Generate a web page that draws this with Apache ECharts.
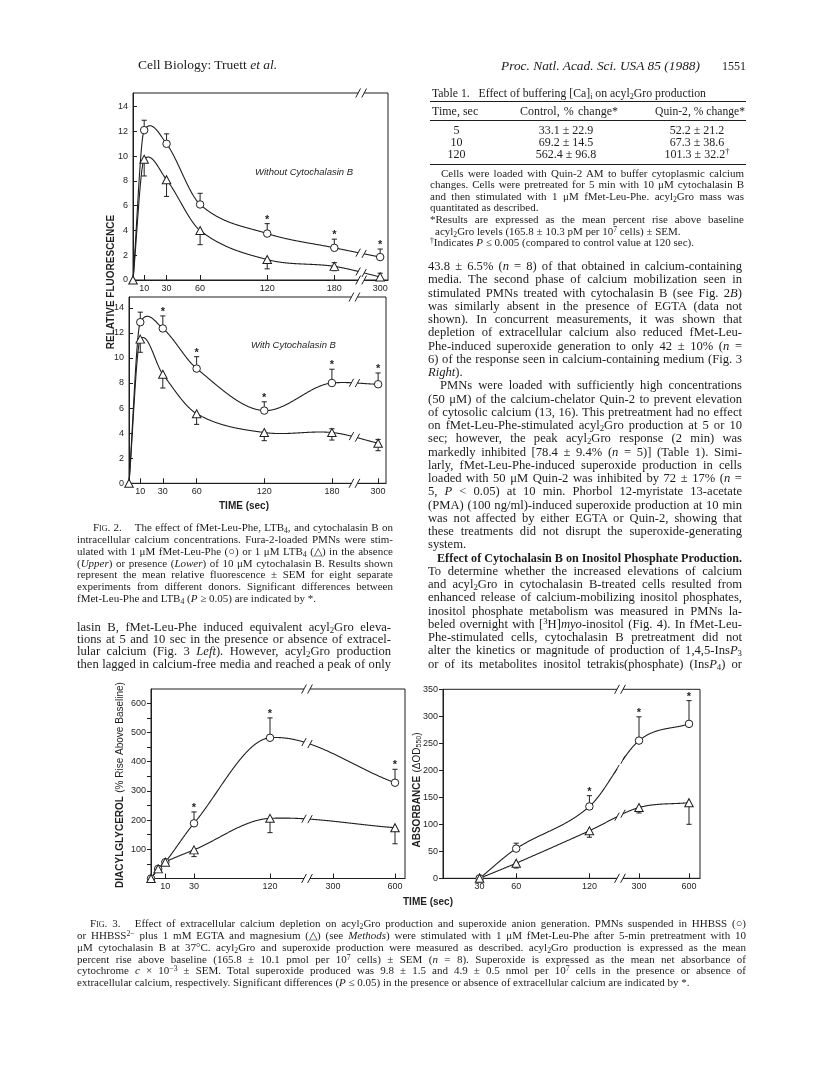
<!DOCTYPE html>
<html><head><meta charset="utf-8">
<script src="https://cdn.jsdelivr.net/npm/echarts@6/dist/echarts.min.js"></script>
<style>
html,body{margin:0;padding:0;background:#fff;}
#page{position:relative;width:816px;height:1067px;overflow:hidden;background:#fff;}
#chart{position:absolute;left:0;top:0;width:816px;height:1067px;}
#text{position:absolute;left:0;top:0;width:816px;height:1067px;}
.ln{position:absolute;white-space:nowrap;font-family:"Liberation Serif","Times New Roman",serif;color:#1c1c1c;}
.ln>span{display:inline-block;transform-origin:0 50%;}
.rule{position:absolute;background:#1c1c1c;}
sub{font-size:0.7em;vertical-align:-0.25em;line-height:0;}
sup{font-size:0.7em;vertical-align:0.45em;line-height:0;}
.sc{font-variant:small-caps;}
</style></head>
<body><div id="page"><div id="chart"></div><div id="text"></div></div>
<script>
// ---------------- DATA ----------------
// Fig. 2: relative fluorescence (fura-2) vs time (sec)
const fig2Times = [0, 10, 30, 60, 120, 180, 300];
const fig2TimeTicks = [10, 30, 60, 120, 180, 300];
const fig2YTicks = [0, 2, 4, 6, 8, 10, 12, 14];
// Upper panel: without cytochalasin B
const upperFmlp = [0, 12.1, 11.0, 6.1, 3.75, 2.6, 1.85];
const upperFmlpSemUp = [0, 0.8, 0.8, 0.9, 0.8, 0.7, 0.65];
const upperFmlpStar = [0, 0, 0, 0, 1, 1, 1];
const upperLtb4 = [0, 9.75, 8.1, 4.0, 1.65, 1.1, 0.25];
const upperLtb4SemDown = [0, 1.35, 1.35, 1.15, 0.75, 0.35, 0];
const upperLtb4SemUp = [0, 0, 0, 0, 0, 0.3, 0.3];
// Lower panel: with cytochalasin B
const lowerFmlp = [0, 12.85, 12.35, 9.15, 5.8, 8.0, 7.9];
const lowerFmlpSemUp = [0, 0.8, 1.0, 0.95, 0.7, 1.1, 0.9];
const lowerFmlpStar = [0, 0, 1, 1, 1, 1, 1];
const lowerLtb4 = [0, 11.5, 8.7, 5.55, 4.05, 4.05, 3.2];
const lowerLtb4SemDown = [0, 1.05, 1.1, 0.85, 0.65, 0.6, 0.6];
const lowerLtb4SemUp = [0, 0, 0, 0, 0, 0.3, 0.3];

// Fig. 3 Left: diacylglycerol (% rise above baseline)
const fig3aTimes = [0, 5, 10, 30, 120, 600];
const fig3aTimeTicks = [10, 30, 120, 300, 600];
const fig3aYLabels = [100, 200, 300, 400, 500, 600];
const fig3aYTicks = [50, 100, 150, 200, 250, 300, 350, 400, 450, 500, 550, 600];
const dagHhbss = [0, 33, 56, 189, 482, 328];
const dagHhbssSemUp = [0, 0, 0, 39, 68, 46];
const dagHhbssStar = [0, 0, 0, 1, 1, 1];
const dagEgta = [0, 33, 56, 98, 206, 174];
const dagEgtaSemDown = [0, 0, 0, 23, 49, 55];

// Fig. 3 Right: superoxide, absorbance (delta OD550)
const fig3bTimes = [30, 60, 120, 300, 600];
const fig3bTimeTicks = [30, 60, 120, 300, 600];
const fig3bYTicks = [0, 50, 100, 150, 200, 250, 300, 350];
const so2Hhbss = [0, 55, 133, 255, 286];
const so2HhbssSemUp = [0, 10, 20, 44, 43];
const so2HhbssStar = [0, 0, 1, 1, 1];
const so2Egta = [0, 28, 88, 131, 140];
const so2EgtaSemDown = [0, 9, 12, 10, 40];

// ---------------- AXIS SCALES (broken time axes) ----------------
function piecewise(ts, us){
  return t => {
    for (let i = 1; i < ts.length; i++) {
      if (t <= ts[i]) { const f = (t - ts[i-1]) / (ts[i] - ts[i-1]); return us[i-1] + f * (us[i] - us[i-1]); }
    }
    return us[us.length - 1];
  };
}
const SCALE2 = piecewise([0, 180, 300], [0, 180, 221]);
const SCALE3A = piecewise([0, 30, 120, 300, 600], [0, 43, 119, 182, 244]);
const SCALE3B = piecewise([0, 120, 300, 600], [0, 146.4, 196, 246]);

const INK = '#1f1f1f';
const SANS = '"Liberation Sans", Arial, Helvetica, sans-serif';

const panels = [
  { grid:{left:133, top:93, width:255, height:187}, xMax:228, yMax:15.1, scale:SCALE2, breakU:204,
    xTicks:fig2TimeTicks, yLabels:fig2YTicks, yTicks:fig2YTicks, yInside:true,
    curves:[
      {times:fig2Times, vals:upperFmlp, up:upperFmlpSemUp, star:upperFmlpStar, sym:'circle', hide:[0]},
      {times:fig2Times, vals:upperLtb4, up:upperLtb4SemUp, down:upperLtb4SemDown, sym:'triangle'}
    ]},
  { grid:{left:129, top:297, width:257, height:186.3}, xMax:228, yMax:14.86, scale:SCALE2, breakU:200,
    xTicks:fig2TimeTicks, yLabels:fig2YTicks, yTicks:fig2YTicks, yInside:true,
    curves:[
      {times:fig2Times, vals:lowerFmlp, up:lowerFmlpSemUp, star:lowerFmlpStar, sym:'circle', hide:[0]},
      {times:fig2Times, vals:lowerLtb4, up:lowerLtb4SemUp, down:lowerLtb4SemDown, sym:'triangle'}
    ]},
  { grid:{left:151, top:689, width:254, height:189.5}, xMax:254, yMax:649, scale:SCALE3A, breakU:156,
    xTicks:fig3aTimeTicks, yLabels:fig3aYLabels, yTicks:fig3aYTicks, yInside:false,
    curves:[
      {times:fig3aTimes, vals:dagHhbss, up:dagHhbssSemUp, star:dagHhbssStar, sym:'circle'},
      {times:fig3aTimes, vals:dagEgta, down:dagEgtaSemDown, sym:'triangle'}
    ]},
  { grid:{left:443, top:689.3, width:257, height:189}, xMax:257, yMax:350, scale:SCALE3B, breakU:177,
    xTicks:fig3bTimeTicks, yLabels:fig3bYTicks, yTicks:fig3bYTicks, yInside:false,
    curves:[
      {times:fig3bTimes, vals:so2Hhbss, up:so2HhbssSemUp, star:so2HhbssStar, sym:'circle'},
      {times:fig3bTimes, vals:so2Egta, down:so2EgtaSemDown, sym:'triangle'}
    ]}
];

// cubic Hermite through pixel points (x increasing)
function hermite(P){
  const n = P.length, m = new Array(n);
  const d = [];
  for (let i = 0; i < n - 1; i++) d.push((P[i+1][1] - P[i][1]) / (P[i+1][0] - P[i][0]));
  for (let i = 0; i < n; i++) {
    if (i === 0) m[i] = d[0];
    else if (i === n - 1) m[i] = d[n-2];
    else {
      let c = (P[i+1][1] - P[i-1][1]) / (P[i+1][0] - P[i-1][0]);
      if (d[i-1] * d[i] < 0) c *= 0.4;
      m[i] = c;
    }
  }
  return x => {
    let i = 0;
    while (i < n - 2 && x > P[i+1][0]) i++;
    const h = P[i+1][0] - P[i][0];
    if (h <= 0) return P[i][1];
    const s = (x - P[i][0]) / h, s2 = s*s, s3 = s2*s;
    return (2*s3 - 3*s2 + 1) * P[i][1] + (s3 - 2*s2 + s) * h * m[i] + (-2*s3 + 3*s2) * P[i+1][1] + (s3 - s2) * h * m[i+1];
  };
}

function slashes(children, x, y, gap){
  [x - gap, x + gap].forEach(cx => {
    children.push({type:'line', shape:{x1:cx - 2.4, y1:y + 4.5, x2:cx + 2.4, y2:y - 4.5}, style:{stroke:INK, lineWidth:1}});
  });
}

const option = {
  animation:false,
  backgroundColor:'transparent',
  grid:[], xAxis:[], yAxis:[], series:[],
  graphic:[
    {type:'text', x:111, y:282, rotation:Math.PI/2, style:{text:'RELATIVE FLUORESCENCE', fill:INK, font:'bold 10px ' + SANS, align:'center', verticalAlign:'middle', textAlign:'center', textVerticalAlign:'middle'}},
    {type:'text', x:244, y:506, style:{text:'TIME (sec)', fill:INK, font:'bold 10px ' + SANS, align:'center', verticalAlign:'middle', textAlign:'center', textVerticalAlign:'middle'}},
    {type:'text', x:255, y:172, style:{text:'Without Cytochalasin B', fill:INK, font:'italic 9.5px ' + SANS, align:'left', verticalAlign:'middle', textAlign:'left', textVerticalAlign:'middle'}},
    {type:'text', x:251, y:345, style:{text:'With Cytochalasin B', fill:INK, font:'italic 9.5px ' + SANS, align:'left', verticalAlign:'middle', textAlign:'left', textVerticalAlign:'middle'}},
    {type:'text', x:120, y:785, rotation:Math.PI/2, style:{text:'{b|DIACYLGLYCEROL} {r|(% Rise Above Baseline)}', rich:{b:{fontWeight:'bold', fontSize:10, fontFamily:SANS, fill:INK, color:INK}, r:{fontSize:10, fontFamily:SANS, fill:INK, color:INK}}, fill:INK, align:'center', verticalAlign:'middle', textAlign:'center', textVerticalAlign:'middle'}},
    {type:'text', x:417, y:790, rotation:Math.PI/2, style:{text:'{b|ABSORBANCE} {r|(\u0394OD}{s|550}{r|)}', rich:{b:{fontWeight:'bold', fontSize:10, fontFamily:SANS, fill:INK, color:INK}, r:{fontSize:10, fontFamily:SANS, fill:INK, color:INK}, s:{fontSize:7, fontFamily:SANS, fill:INK, color:INK, verticalAlign:'bottom'}}, fill:INK, align:'center', verticalAlign:'middle', textAlign:'center', textVerticalAlign:'middle'}},
    {type:'text', x:428, y:902, style:{text:'TIME (sec)', fill:INK, font:'bold 10px ' + SANS, align:'center', verticalAlign:'middle', textAlign:'center', textVerticalAlign:'middle'}}
  ]
};

panels.forEach((p, gi) => {
  option.grid.push(Object.assign({show:true, borderColor:INK, borderWidth:1, backgroundColor:'transparent', containLabel:false, outerBoundsMode:'none'}, p.grid));
  const xu = p.xTicks.map(p.scale);
  const labelFor = v => { let best = 0; xu.forEach((u, k) => { if (Math.abs(u - v) < Math.abs(xu[best] - v)) best = k; }); return String(p.xTicks[best]); };
  option.xAxis.push({type:'value', gridIndex:gi, min:0, max:p.xMax,
    axisLine:{show:true, onZero:false, lineStyle:{color:INK, width:1}},
    splitLine:{show:false}, minorTick:{show:false},
    axisTick:{show:true, inside:true, length:5, customValues:xu, lineStyle:{color:INK, width:1}},
    axisLabel:{show:true, customValues:xu, formatter:labelFor, color:INK, fontFamily:SANS, fontSize:9, margin:4}
  });
  option.yAxis.push({type:'value', gridIndex:gi, min:0, max:p.yMax,
    axisLine:{show:true, onZero:false, lineStyle:{color:INK, width:1}},
    splitLine:{show:false}, minorTick:{show:false},
    axisTick:{show:true, inside:p.yInside, length:4, customValues:p.yTicks, lineStyle:{color:INK, width:1}},
    axisLabel:{show:true, customValues:p.yLabels, formatter:v => String(Math.round(v)), color:INK, fontFamily:SANS, fontSize:9, margin:5}
  });

  // broken-axis marks on bottom and top borders
  option.series.push({type:'custom', xAxisIndex:gi, yAxisIndex:gi, data:[[0, 0]], clip:false, silent:true, z:6,
    renderItem:(params, api) => {
      const ch = [];
      [0, p.yMax].forEach(v => {
        const c = api.coord([p.breakU, v]);
        ch.push({type:'rect', shape:{x:c[0] - 3, y:c[1] - 1.5, width:6, height:3}, style:{fill:'#fff'}});
        slashes(ch, c[0], c[1], 3);
      });
      return {type:'group', children:ch};
    }});

  p.curves.forEach(cv => {
    // smooth curve with a break gap
    option.series.push({type:'custom', xAxisIndex:gi, yAxisIndex:gi, data:[[0, 0]], clip:false, silent:true, z:2,
      renderItem:(params, api) => {
        const pts = cv.times.map((t, k) => api.coord([p.scale(t), cv.vals[k]]));
        const f = hermite(pts);
        const bx = api.coord([p.breakU, 0])[0];
        const gap = 3;
        const segA = [], segB = [];
        const x0 = pts[0][0], x1 = pts[pts.length - 1][0];
        for (let x = x0; x <= x1 + 1e-6; x += 0.5) {
          if (x < bx - gap) segA.push([x, f(x)]);
          else if (x > bx + gap) segB.push([x, f(x)]);
        }
        const ch = [];
        const hasBreak = bx > x0 && bx < x1;
        if (hasBreak) { segA.push([bx - gap, f(bx - gap)]); segB.unshift([bx + gap, f(bx + gap)]); }
        [segA, segB].forEach(s => { if (s.length > 1) ch.push({type:'polyline', shape:{points:s}, style:{stroke:INK, lineWidth:1.1, fill:null}}); });
        if (hasBreak) {
          [bx - gap, bx + gap].forEach(cx => {
            const y = f(cx);
            ch.push({type:'line', shape:{x1:cx - 2.2, y1:y + 4, x2:cx + 2.2, y2:y - 4}, style:{stroke:INK, lineWidth:1}});
          });
        }
        return {type:'group', children:ch};
      }});
    // SEM bars and significance stars
    option.series.push({type:'custom', xAxisIndex:gi, yAxisIndex:gi, clip:false, silent:true, z:3,
      data: cv.times.map((t, k) => [p.scale(t), cv.vals[k], (cv.down || [])[k] || 0, (cv.up || [])[k] || 0, (cv.star || [])[k] || 0]),
      renderItem:(params, api) => {
        const u = api.value(0), v = api.value(1), lo = api.value(2), hi = api.value(3), st = api.value(4);
        const c = api.coord([u, v]);
        const ch = [];
        if (hi > 0) {
          const t = api.coord([u, v + hi]);
          ch.push({type:'line', shape:{x1:c[0], y1:c[1], x2:t[0], y2:t[1]}, style:{stroke:INK, lineWidth:1}});
          ch.push({type:'line', shape:{x1:t[0] - 2.6, y1:t[1], x2:t[0] + 2.6, y2:t[1]}, style:{stroke:INK, lineWidth:1}});
        }
        if (lo > 0) {
          const b = api.coord([u, v - lo]);
          ch.push({type:'line', shape:{x1:c[0], y1:c[1], x2:b[0], y2:b[1]}, style:{stroke:INK, lineWidth:1}});
          ch.push({type:'line', shape:{x1:b[0] - 2.6, y1:b[1], x2:b[0] + 2.6, y2:b[1]}, style:{stroke:INK, lineWidth:1}});
        }
        if (st) {
          const t = api.coord([u, v + hi]);
          ch.push({type:'text', x:t[0], y:t[1] - 4, style:{text:'*', fill:INK, font:'bold 11px ' + SANS, align:'center', verticalAlign:'middle'}});
        }
        return {type:'group', children:ch};
      }});
    // markers
    option.series.push({type:'scatter', xAxisIndex:gi, yAxisIndex:gi, silent:true, z:4,
      symbol:cv.sym, symbolSize: cv.sym === 'circle' ? 7.5 : [8.5, 8],
      itemStyle:{color:'#fff', borderColor:INK, borderWidth:1, opacity:1},
      data: cv.times.map((t, k) => [p.scale(t), cv.vals[k]]).filter((d, k) => !(cv.hide || []).includes(k))
    });
  });
});

const chart = echarts.init(document.getElementById('chart'), null, {renderer:'canvas'});
chart.setOption(option);

// ---------------- TEXT ----------------
const textRoot = document.getElementById('text');
function block(x, cy0, w, fs, lh, lines, extra){
  lines.forEach((ln, i) => {
    const arr = Array.isArray(ln) ? ln : [ln];
    const html = arr[0], mode = arr[1] || 'j', indent = arr[2] || 0;
    const d = document.createElement('div'); d.className = 'ln';
    d.style.top = (cy0 + i * lh - lh / 2) + 'px';
    d.style.height = lh + 'px'; d.style.lineHeight = lh + 'px'; d.style.fontSize = fs + 'px';
    if (mode === 'c') { d.style.left = (x - w / 2) + 'px'; d.style.width = w + 'px'; d.style.textAlign = 'center'; }
    else { d.style.left = (x + indent) + 'px'; d.style.width = (w - indent) + 'px'; }
    if (extra) Object.assign(d.style, extra);
    d.dataset.mode = mode;
    const s = document.createElement('span'); s.innerHTML = html; d.appendChild(s);
    textRoot.appendChild(d);
  });
}
function rule(x, y, w, h){ const r = document.createElement('div'); r.className = 'rule'; Object.assign(r.style, {left:x + 'px', top:y + 'px', width:w + 'px', height:h + 'px'}); textRoot.appendChild(r); }

// running heads
block(138, 65, 200, 13.5, 16, [['Cell Biology: Truett <i>et al.</i>', 'l']]);
block(501, 66, 199, 13.5, 16, [['<i>Proc. Natl. Acad. Sci. USA 85 (1988)</i>', 'j']]);
block(722, 66, 24, 13.5, 16, [['1551', 'l']]);

// Table 1
block(432, 93.3, 274, 12, 14, [['Table 1.&nbsp;&nbsp; Effect of buffering [Ca]<sub>i</sub> on acyl<sub>2</sub>Gro production', 'j']]);
rule(430, 100.8, 316, 1.4);
block(432, 111.7, 46, 12, 13, [['Time, sec', 'l']]);
block(520, 111.7, 98, 12, 13, [['Control, % change*', 'j']]);
block(655, 111.7, 90, 12, 13, [['Quin-2, % change*', 'j']]);
rule(430, 119.6, 316, 1);
block(456.5, 130, 60, 12, 12.2, [['5', 'c'], ['10', 'c'], ['120', 'c']]);
block(566, 130, 100, 12, 12.2, [['33.1 ± 22.9', 'c'], ['69.2 ± 14.5', 'c'], ['562.4 ± 96.8', 'c']]);
block(697, 130, 100, 12, 12.2, [['52.2 ± 21.2', 'c'], ['67.3 ± 38.6', 'c'], ['101.3 ± 32.2<sup>†</sup>', 'c']]);
rule(430, 163.8, 316, 1);
block(430, 173.3, 314, 11, 11.6, [
  ['Cells were loaded with Quin-2 AM to buffer cytoplasmic calcium', 'j', 11],
  ['changes. Cells were pretreated for 5 min with 10 μM cytochalasin B', 'j'],
  ['and then stimulated with 1 μM fMet-Leu-Phe. acyl<sub>2</sub>Gro mass was', 'j'],
  ['quantitated as described.', 'l'],
  ['*Results are expressed as the mean percent rise above baseline', 'j'],
  ['acyl<sub>2</sub>Gro levels (165.8 ± 10.3 pM per 10<sup>7</sup> cells) ± SEM.', 'l', 5],
  ['<sup>†</sup>Indicates <i>P</i> ≤ 0.005 (compared to control value at 120 sec).', 'l']
]);

// right column body
block(428, 266.7, 314, 12.6, 13.25, [
  '43.8 ± 6.5% (<i>n</i> = 8) of that obtained in calcium-containing',
  'media. The second phase of calcium mobilization seen in',
  'stimulated PMNs treated with cytochalasin B (see Fig. 2<i>B</i>)',
  'was similarly absent in the presence of EGTA (data not',
  'shown). In concurrent measurements, it was shown that',
  'depletion of extracellular calcium also reduced fMet-Leu-',
  'Phe-induced superoxide generation to only 42 ± 10% (<i>n</i> =',
  '6) of the response seen in calcium-containing medium (Fig. 3',
  ['<i>Right</i>).', 'l'],
  ['PMNs were loaded with sufficiently high concentrations', 'j', 12],
  '(50 μM) of the calcium-chelator Quin-2 to prevent elevation',
  'of cytosolic calcium (13, 16). This pretreatment had no effect',
  'on fMet-Leu-Phe-stimulated acyl<sub>2</sub>Gro production at 5 or 10',
  'sec; however, the peak acyl<sub>2</sub>Gro response (2 min) was',
  'markedly inhibited [78.4 ± 9.4% (<i>n</i> = 5)] (Table 1). Simi-',
  'larly, fMet-Leu-Phe-induced superoxide production in cells',
  'loaded with 50 μM Quin-2 was inhibited by 72 ± 17% (<i>n</i> =',
  '5, <i>P</i> &lt; 0.05) at 10 min. Phorbol 12-myristate 13-acetate',
  '(PMA) (100 ng/ml)-induced superoxide production at 10 min',
  'was not affected by either EGTA or Quin-2, showing that',
  'these treatments did not disrupt the superoxide-generating',
  ['system.', 'l'],
  ['<b>Effect of Cytochalasin B on Inositol Phosphate Production.</b>', 'j', 9],
  'To determine whether the increased elevations of calcium',
  'and acyl<sub>2</sub>Gro in cytochalasin B-treated cells resulted from',
  'enhanced release of calcium-mobilizing inositol phosphates,',
  'inositol phosphate metabolism was measured in PMNs la-',
  'beled overnight with [<sup>3</sup>H]<i>myo</i>-inositol (Fig. 4). In fMet-Leu-',
  'Phe-stimulated cells, cytochalasin B pretreatment did not',
  'alter the kinetics or magnitude of production of 1,4,5-Ins<i>P</i><sub>3</sub>',
  'or of its metabolites inositol tetrakis(phosphate) (Ins<i>P</i><sub>4</sub>) or'
]);

// Fig. 2 legend
block(77, 528.3, 316, 11, 11.7, [
  ['<span class="sc">Fig.</span> 2.&nbsp;&nbsp;&nbsp; The effect of fMet-Leu-Phe, LTB<sub>4</sub>, and cytochalasin B on', 'j', 16],
  'intracellular calcium concentrations. Fura-2-loaded PMNs were stim-',
  'ulated with 1 μM fMet-Leu-Phe (○) or 1 μM LTB<sub>4</sub> (△) in the absence',
  '(<i>Upper</i>) or presence (<i>Lower</i>) of 10 μM cytochalasin B. Results shown',
  'represent the mean relative fluorescence ± SEM for eight separate',
  'experiments from different donors. Significant differences between',
  ['fMet-Leu-Phe and LTB<sub>4</sub> (<i>P</i> ≥ 0.05) are indicated by *.', 'l']
]);

// left column body
block(77, 626.7, 314, 12.6, 12.4, [
  'lasin B, fMet-Leu-Phe induced equivalent acyl<sub>2</sub>Gro eleva-',
  'tions at 5 and 10 sec in the presence or absence of extracel-',
  'lular calcium (Fig. 3 <i>Left</i>). However, acyl<sub>2</sub>Gro production',
  'then lagged in calcium-free media and reached a peak of only'
]);

// Fig. 3 legend
block(77, 924, 669, 11, 11.8, [
  ['<span class="sc">Fig.</span> 3.&nbsp;&nbsp; Effect of extracellular calcium depletion on acyl<sub>2</sub>Gro production and superoxide anion generation. PMNs suspended in HHBSS (○)', 'j', 13],
  'or HHBSS<sup>2−</sup> plus 1 mM EGTA and magnesium (△) (see <i>Methods</i>) were stimulated with 1 μM fMet-Leu-Phe after 5-min pretreatment with 10',
  'μM cytochalasin B at 37°C. acyl<sub>2</sub>Gro and superoxide production were measured as described. acyl<sub>2</sub>Gro production is expressed as the mean',
  'percent rise above baseline (165.8 ± 10.1 pmol per 10<sup>7</sup> cells) ± SEM (<i>n</i> = 8). Superoxide is expressed as the mean net absorbance of',
  'cytochrome <i>c</i> × 10<sup>−3</sup> ± SEM. Total superoxide produced was 9.8 ± 1.5 and 4.9 ± 0.5 nmol per 10<sup>7</sup> cells in the presence or absence of',
  ['extracellular calcium, respectively. Significant differences (<i>P</i> ≤ 0.05) in the presence or absence of extracellular calcium are indicated by *.', 'l']
]);

function fit(){
  document.querySelectorAll('.ln').forEach(d => {
    const s = d.firstChild;
    s.style.wordSpacing = ''; s.style.transform = '';
    const W = parseFloat(d.style.width);
    const w = s.getBoundingClientRect().width;
    if (w > W + 0.3) { s.style.transform = 'scaleX(' + (W / w).toFixed(4) + ')'; }
    else if (d.dataset.mode === 'j') {
      const n = (s.textContent.trim().match(/[ \u00a0]/g) || []).length;
      if (n) s.style.wordSpacing = ((W - w) / n).toFixed(3) + 'px';
    }
  });
}
fit();
if (document.fonts && document.fonts.ready) document.fonts.ready.then(fit);
</script>
</body></html>
